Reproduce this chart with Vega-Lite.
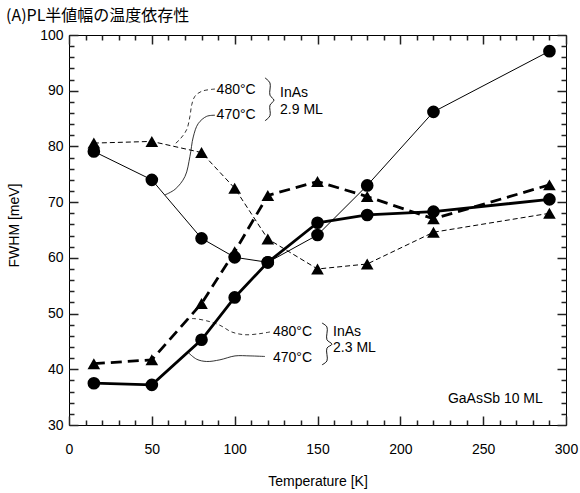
{
  "$schema": "https://vega.github.io/schema/vega-lite/v6.json",
  "width": 497,
  "height": 390,
  "autosize": {"type": "none"},
  "padding": {"left": 69, "top": 35, "right": 14, "bottom": 68},
  "background": "white",
  "config": {
    "view": {"stroke": "black", "strokeWidth": 1},
    "axis": {"domain": false, "grid": false, "labelColor": "black", "titleColor": "black", "labelFont": "Liberation Sans", "titleFont": "Liberation Sans", "labelFontSize": 14, "titleFontSize": 14, "titleFontWeight": "normal"}
  },
  "title": {"text": "(A)PL半値幅の温度依存性", "anchor": "start", "frame": "group", "dx": -63, "offset": 4, "font": "Noto Sans CJK JP", "fontSize": 16, "fontWeight": "normal", "color": "black"},
  "datasets": {
    "main": [
      {"T": 15, "W": 79.1, "s": "a"}, {"T": 50, "W": 74.0, "s": "a"}, {"T": 80, "W": 63.5, "s": "a"}, {"T": 100, "W": 60.1, "s": "a"}, {"T": 120, "W": 59.2, "s": "a"}, {"T": 150, "W": 64.1, "s": "a"}, {"T": 180, "W": 73.0, "s": "a"}, {"T": 220, "W": 86.2, "s": "a"}, {"T": 290, "W": 97.1, "s": "a"},
      {"T": 15, "W": 80.6, "s": "b"}, {"T": 50, "W": 80.9, "s": "b"}, {"T": 80, "W": 78.9, "s": "b"}, {"T": 100, "W": 72.5, "s": "b"}, {"T": 120, "W": 63.4, "s": "b"}, {"T": 150, "W": 58.0, "s": "b"}, {"T": 180, "W": 58.9, "s": "b"}, {"T": 220, "W": 64.6, "s": "b"}, {"T": 290, "W": 68.0, "s": "b"},
      {"T": 15, "W": 37.5, "s": "c"}, {"T": 50, "W": 37.2, "s": "c"}, {"T": 80, "W": 45.3, "s": "c"}, {"T": 100, "W": 52.9, "s": "c"}, {"T": 120, "W": 59.2, "s": "c"}, {"T": 150, "W": 66.3, "s": "c"}, {"T": 180, "W": 67.7, "s": "c"}, {"T": 220, "W": 68.3, "s": "c"}, {"T": 290, "W": 70.5, "s": "c"},
      {"T": 15, "W": 41.0, "s": "d"}, {"T": 50, "W": 41.7, "s": "d"}, {"T": 80, "W": 51.8, "s": "d"}, {"T": 100, "W": 61.1, "s": "d"}, {"T": 120, "W": 71.2, "s": "d"}, {"T": 150, "W": 73.7, "s": "d"}, {"T": 180, "W": 71.0, "s": "d"}, {"T": 220, "W": 67.0, "s": "d"}, {"T": 290, "W": 73.1, "s": "d"}
    ],
    "leaderDashed": [
      {"id": "t", "i": 0, "T": 88.1, "W": 90.3}, {"id": "t", "i": 1, "T": 80.1, "W": 89.9}, {"id": "t", "i": 2, "T": 76.0, "W": 89.0}, {"id": "t", "i": 3, "T": 74.1, "W": 87.5}, {"id": "t", "i": 4, "T": 73.0, "W": 85.4}, {"id": "t", "i": 5, "T": 71.0, "W": 83.0}, {"id": "t", "i": 6, "T": 67.0, "W": 81.3}, {"id": "t", "i": 7, "T": 63.0, "W": 80.2},
      {"id": "b", "i": 0, "T": 121.3, "W": 46.7}, {"id": "b", "i": 1, "T": 115.3, "W": 46.4}, {"id": "b", "i": 2, "T": 106.2, "W": 46.2}, {"id": "b", "i": 3, "T": 98.2, "W": 46.7}, {"id": "b", "i": 4, "T": 91.1, "W": 47.9}, {"id": "b", "i": 5, "T": 83.1, "W": 48.7}, {"id": "b", "i": 6, "T": 75.0, "W": 49.1}, {"id": "b", "i": 7, "T": 72.0, "W": 49.0}
    ],
    "leaderSolid": [
      {"id": "t", "i": 0, "T": 88.1, "W": 85.6}, {"id": "t", "i": 1, "T": 83.1, "W": 85.4}, {"id": "t", "i": 2, "T": 78.0, "W": 84.1}, {"id": "t", "i": 3, "T": 75.0, "W": 81.7}, {"id": "t", "i": 4, "T": 73.0, "W": 78.2}, {"id": "t", "i": 5, "T": 70.0, "W": 74.6}, {"id": "t", "i": 6, "T": 64.0, "W": 72.3}, {"id": "t", "i": 7, "T": 57.9, "W": 71.3},
      {"id": "b", "i": 0, "T": 118.3, "W": 42.3}, {"id": "b", "i": 1, "T": 109.3, "W": 42.4}, {"id": "b", "i": 2, "T": 100.2, "W": 42.4}, {"id": "b", "i": 3, "T": 91.1, "W": 41.7}, {"id": "b", "i": 4, "T": 83.1, "W": 41.4}, {"id": "b", "i": 5, "T": 77.1, "W": 41.8}, {"id": "b", "i": 6, "T": 72.0, "W": 43.0}
    ],
    "braces": [
      {"id": "t", "i": 0, "T": 118.3, "W": 92.3}, {"id": "t", "i": 1, "T": 121.3, "W": 91.4}, {"id": "t", "i": 2, "T": 121.3, "W": 89.2}, {"id": "t", "i": 3, "T": 123.7, "W": 88.3}, {"id": "t", "i": 4, "T": 121.3, "W": 87.4}, {"id": "t", "i": 5, "T": 121.3, "W": 85.5}, {"id": "t", "i": 6, "T": 118.3, "W": 84.6},
      {"id": "b", "i": 0, "T": 152.7, "W": 48.3}, {"id": "b", "i": 1, "T": 155.7, "W": 47.6}, {"id": "b", "i": 2, "T": 155.7, "W": 45.3}, {"id": "b", "i": 3, "T": 158.7, "W": 44.5}, {"id": "b", "i": 4, "T": 155.7, "W": 43.8}, {"id": "b", "i": 5, "T": 155.7, "W": 41.5}, {"id": "b", "i": 6, "T": 152.7, "W": 40.8}
    ],
    "labels": [
      {"T": 89.1, "W": 90.1, "text": "480°C"},
      {"T": 89.1, "W": 85.6, "text": "470°C"},
      {"T": 127.4, "W": 89.6, "text": "InAs"},
      {"T": 127.4, "W": 86.5, "text": "2.9 ML"},
      {"T": 123.1, "W": 46.75, "text": "480°C"},
      {"T": 123.1, "W": 42.1, "text": "470°C"},
      {"T": 159.4, "W": 46.75, "text": "InAs"},
      {"T": 159.4, "W": 43.8, "text": "2.3 ML"},
      {"T": 228.7, "W": 34.6, "text": "GaAsSb 10 ML"}
    ]
  },
  "resolve": {"axis": {"x": "independent", "y": "independent"}},
  "layer": [
    {
      "data": {"name": "main"},
      "transform": [{"filter": "datum.s === 'a'"}],
      "mark": {"type": "line", "color": "black", "strokeWidth": 1},
      "encoding": {
        "x": {"field": "T", "type": "quantitative", "scale": {"domain": [0, 300], "nice": false, "zero": false},
          "axis": {"orient": "bottom", "values": [0, 50, 100, 150, 200, 250, 300], "ticks": true, "tickSize": -9, "tickColor": "#222222", "tickWidth": 1.5,
            "labelFlush": false, "labelOverlap": false, "labelPadding": 26,
            "title": "Temperature [K]", "titleY": 49, "titleBaseline": "top"}},
        "y": {"field": "W", "type": "quantitative", "scale": {"domain": [30, 100], "nice": false, "zero": false},
          "axis": {"orient": "left", "values": [30, 40, 50, 60, 70, 80, 90, 100], "ticks": true, "tickSize": -9, "tickColor": "#222222", "tickWidth": 1.5,
            "labelFlush": false, "labelOverlap": false, "labelPadding": 15,
            "title": "FWHM [meV]", "titleX": -55, "titleY": 190, "titleBaseline": "middle", "titleAngle": -90}}
      }
    },
    {
      "data": {"name": "main"},
      "transform": [{"filter": "datum.s === 'b'"}],
      "mark": {"type": "line", "color": "black", "strokeWidth": 1, "strokeDash": [5, 3]},
      "encoding": {
        "x": {"field": "T", "type": "quantitative", "scale": {"domain": [0, 300], "nice": false, "zero": false},
          "axis": {"orient": "top", "values": [0, 50, 100, 150, 200, 250, 300], "ticks": true, "tickSize": -9, "tickColor": "#222222", "tickWidth": 1.5, "labels": false, "title": null}},
        "y": {"field": "W", "type": "quantitative", "scale": {"domain": [30, 100], "nice": false, "zero": false},
          "axis": {"orient": "right", "values": [30, 40, 50, 60, 70, 80, 90, 100], "ticks": true, "tickSize": -9, "tickColor": "#222222", "tickWidth": 1.5, "labels": false, "title": null}}
      }
    },
    {
      "data": {"name": "main"},
      "transform": [{"filter": "datum.s === 'c'"}],
      "mark": {"type": "line", "color": "black", "strokeWidth": 2.8},
      "encoding": {
        "x": {"field": "T", "type": "quantitative", "scale": {"domain": [0, 300], "nice": false, "zero": false},
          "axis": {"orient": "bottom", "values": [10,20,30,40,60,70,80,90,110,120,130,140,160,170,180,190,210,220,230,240,260,270,280,290], "ticks": true, "tickSize": -5, "tickColor": "#222222", "tickWidth": 1.5, "labels": false, "title": null}},
        "y": {"field": "W", "type": "quantitative", "scale": {"domain": [30, 100], "nice": false, "zero": false},
          "axis": {"orient": "left", "values": [32,34,36,38,42,44,46,48,52,54,56,58,62,64,66,68,72,74,76,78,82,84,86,88,92,94,96,98], "ticks": true, "tickSize": -5, "tickColor": "#222222", "tickWidth": 1.5, "labels": false, "title": null}}
      }
    },
    {
      "data": {"name": "main"},
      "transform": [{"filter": "datum.s === 'd'"}],
      "mark": {"type": "line", "color": "black", "strokeWidth": 2.8, "strokeDash": [11, 6]},
      "encoding": {
        "x": {"field": "T", "type": "quantitative", "scale": {"domain": [0, 300], "nice": false, "zero": false},
          "axis": {"orient": "top", "values": [10,20,30,40,60,70,80,90,110,120,130,140,160,170,180,190,210,220,230,240,260,270,280,290], "ticks": true, "tickSize": -5, "tickColor": "#222222", "tickWidth": 1.5, "labels": false, "title": null}},
        "y": {"field": "W", "type": "quantitative", "scale": {"domain": [30, 100], "nice": false, "zero": false},
          "axis": {"orient": "right", "values": [32,34,36,38,42,44,46,48,52,54,56,58,62,64,66,68,72,74,76,78,82,84,86,88,92,94,96,98], "ticks": true, "tickSize": -5, "tickColor": "#222222", "tickWidth": 1.5, "labels": false, "title": null}}
      }
    },
    {
      "data": {"name": "main"},
      "mark": {"type": "point", "filled": true, "color": "black", "opacity": 1, "size": 160},
      "encoding": {
        "x": {"field": "T", "type": "quantitative", "scale": {"domain": [0, 300], "nice": false, "zero": false}, "axis": null},
        "y": {"field": "W", "type": "quantitative", "scale": {"domain": [30, 100], "nice": false, "zero": false}, "axis": null},
        "shape": {"field": "s", "type": "nominal", "scale": {"domain": ["a", "b", "c", "d"], "range": ["circle", "triangle-up", "circle", "triangle-up"]}, "legend": null}
      }
    },
    {
      "data": {"name": "leaderDashed"},
      "mark": {"type": "line", "color": "black", "strokeWidth": 0.8, "strokeDash": [4, 3], "interpolate": "catmull-rom"},
      "encoding": {
        "x": {"field": "T", "type": "quantitative", "scale": {"domain": [0, 300], "nice": false, "zero": false}, "axis": null},
        "y": {"field": "W", "type": "quantitative", "scale": {"domain": [30, 100], "nice": false, "zero": false}, "axis": null},
        "detail": {"field": "id"},
        "order": {"field": "i", "type": "quantitative"}
      }
    },
    {
      "data": {"name": "leaderSolid"},
      "mark": {"type": "line", "color": "black", "strokeWidth": 0.8, "interpolate": "catmull-rom"},
      "encoding": {
        "x": {"field": "T", "type": "quantitative", "scale": {"domain": [0, 300], "nice": false, "zero": false}, "axis": null},
        "y": {"field": "W", "type": "quantitative", "scale": {"domain": [30, 100], "nice": false, "zero": false}, "axis": null},
        "detail": {"field": "id"},
        "order": {"field": "i", "type": "quantitative"}
      }
    },
    {
      "data": {"name": "braces"},
      "mark": {"type": "line", "color": "black", "strokeWidth": 0.9, "interpolate": "catmull-rom"},
      "encoding": {
        "x": {"field": "T", "type": "quantitative", "scale": {"domain": [0, 300], "nice": false, "zero": false}, "axis": null},
        "y": {"field": "W", "type": "quantitative", "scale": {"domain": [30, 100], "nice": false, "zero": false}, "axis": null},
        "detail": {"field": "id"},
        "order": {"field": "i", "type": "quantitative"}
      }
    },
    {
      "data": {"name": "labels"},
      "mark": {"type": "text", "align": "left", "baseline": "middle", "font": "Liberation Sans", "fontSize": 14, "color": "black"},
      "encoding": {
        "x": {"field": "T", "type": "quantitative", "scale": {"domain": [0, 300], "nice": false, "zero": false}, "axis": null},
        "y": {"field": "W", "type": "quantitative", "scale": {"domain": [30, 100], "nice": false, "zero": false}, "axis": null},
        "text": {"field": "text"}
      }
    }
  ]
}
